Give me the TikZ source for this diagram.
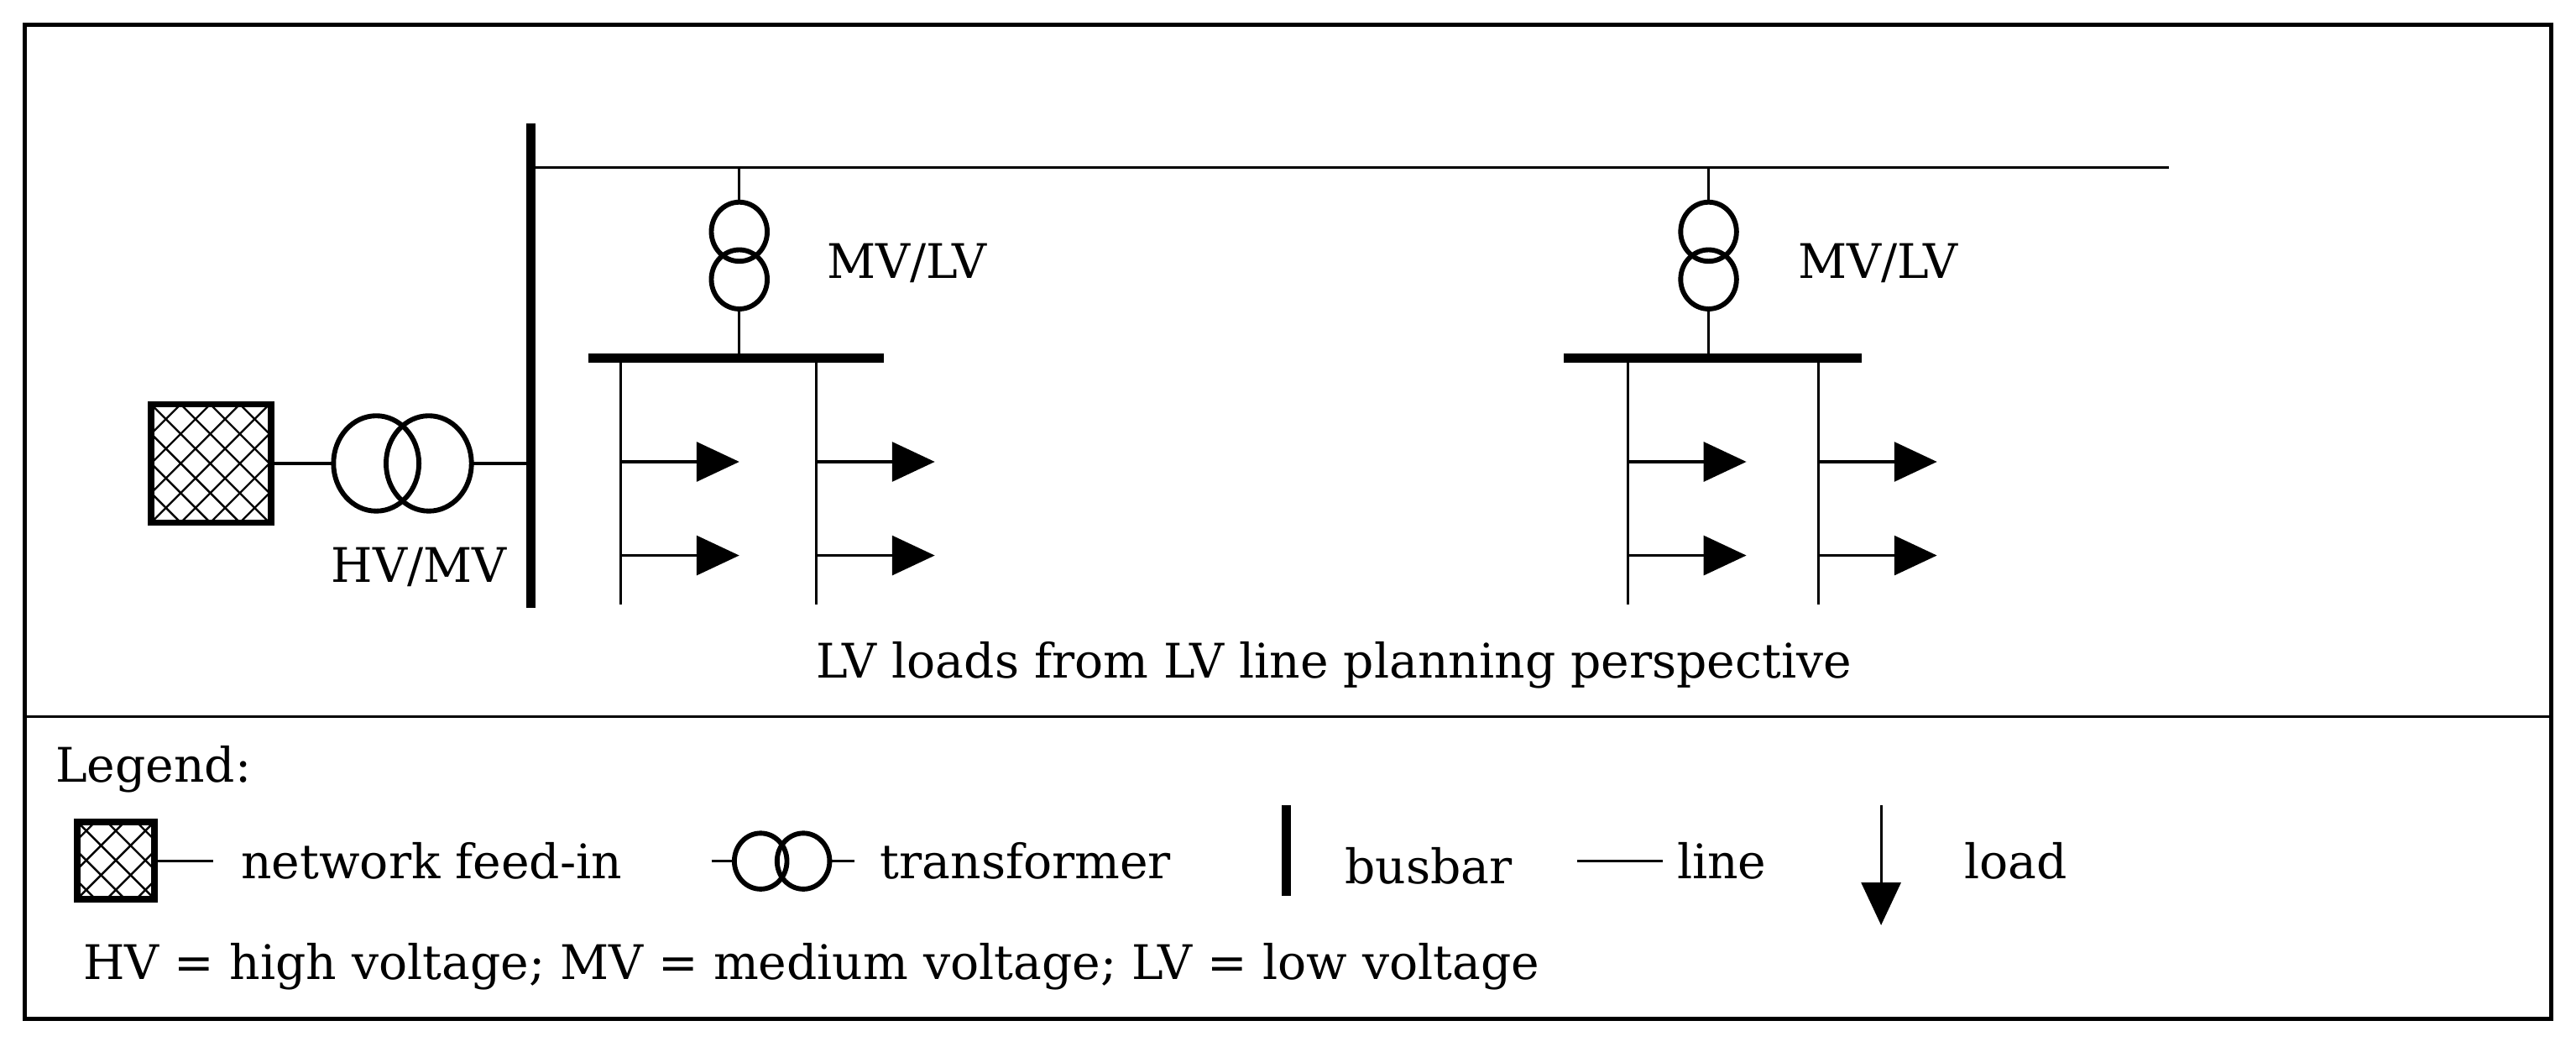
\documentclass[tikz,border=0pt]{standalone}
\usepackage{fontspec}
\setmainfont{DejaVu Serif}
\usetikzlibrary{arrows.meta}
\begin{document}
\begin{tikzpicture}[x=1pt,y=-1pt,line width=1.6pt,
  bus/.style={line width=5.5pt},
  ln/.style={line width=1.6pt},
  tr/.style={line width=3pt},
  lbl/.style={font=\fontsize{29}{32}\selectfont,inner sep=0pt},
  ld/.style={-{Triangle[length=26pt,width=24pt]}}]
\useasboundingbox (0,0) rectangle (1568,637);
\draw[line width=2.5pt] (15,15) rectangle (1553,620);
\draw[line width=1.6pt] (15,436) -- (1553,436);
% feed-in
\newcommand{\feedin}[4]{%
 \begin{scope}
 \clip (#1,#2) rectangle (#3,#4);
 \foreach \k in {-6,...,6}{
   \draw[line width=1.2pt] ({#1+\k*18},#2) -- ++(80,80);
   \draw[line width=1.2pt] ({#1+\k*18},#4) -- ++(80,-80);}
 \end{scope}
 \draw[line width=4pt] (#1,#2) rectangle (#3,#4);}
\feedin{92}{246}{165}{318}
\coordinate (f1) at (165,282);
\coordinate (t1a) at (203,282);
\coordinate (t1b) at (287,282);
\draw[ln] (f1) -- (t1a);
\draw[tr] (229,282) ellipse (26 and 29);
\draw[tr] (261,282) ellipse (26 and 29);
\coordinate (b1) at (323,282);
\draw[ln] (t1b) -- (b1);
\node[lbl] (hvmv) at (255,345) {HV/MV};
\coordinate (mbT) at (323,75);
\coordinate (mbB) at (323,370);
\draw[bus] (mbT) -- (mbB);
\coordinate (tl0) at (323,102);
\coordinate (tl1) at (1320,102);
\draw[ln] (tl0) -- (tl1);
% substations
\foreach \tx/\bl/\br/\fa/\fb/\lx in {450/358/538/378/497/552, 1040/952/1133/991/1107/1143}{
  \draw[ln] (\tx,102) -- (\tx,124);
  \draw[tr] (\tx,141) ellipse (17 and 18);
  \draw[tr] (\tx,170) ellipse (17 and 18);
  \draw[ln] (\tx,188) -- (\tx,218);
  \draw[bus] (\bl,218) -- (\br,218);
  \foreach \f in {\fa,\fb}{
    \draw[ln] (\f,218) -- (\f,368);
    \draw[ld] (\f,281) -- ++(72,0);
    \draw[ld] (\f,338) -- ++(72,0);}
  \node[lbl] at (\lx,160) {MV/LV};
}
\node[lbl] (cap) at (812,405) {LV loads from LV line planning perspective};
% legend
\node[lbl,anchor=west] (leg) at (33,468) {Legend:};
\feedin{47}{500}{94}{547}
\draw[ln] (94,524) -- (130,524);
\node[lbl,anchor=west] at (146,524) {network feed-in};
\draw[ln] (433,524) -- (447,524);
\draw[tr] (463,524) ellipse (16 and 17);
\draw[tr] (489,524) ellipse (16 and 17);
\draw[ln] (505,524) -- (520,524);
\node[lbl,anchor=west] at (535,524) {transformer};
\draw[bus] (783,490) -- (783,545);
\node[lbl,anchor=west] at (818,527) {busbar};
\draw[ln] (960,524) -- (1012,524);
\node[lbl,anchor=west] at (1020,524) {line};
\draw[ld] (1145,490) -- (1145,563);
\node[lbl,anchor=west] at (1195,524) {load};
\node[lbl,anchor=west] at (50,588) {HV = high voltage; MV = medium voltage; LV = low voltage};
\end{tikzpicture}
\end{document}
